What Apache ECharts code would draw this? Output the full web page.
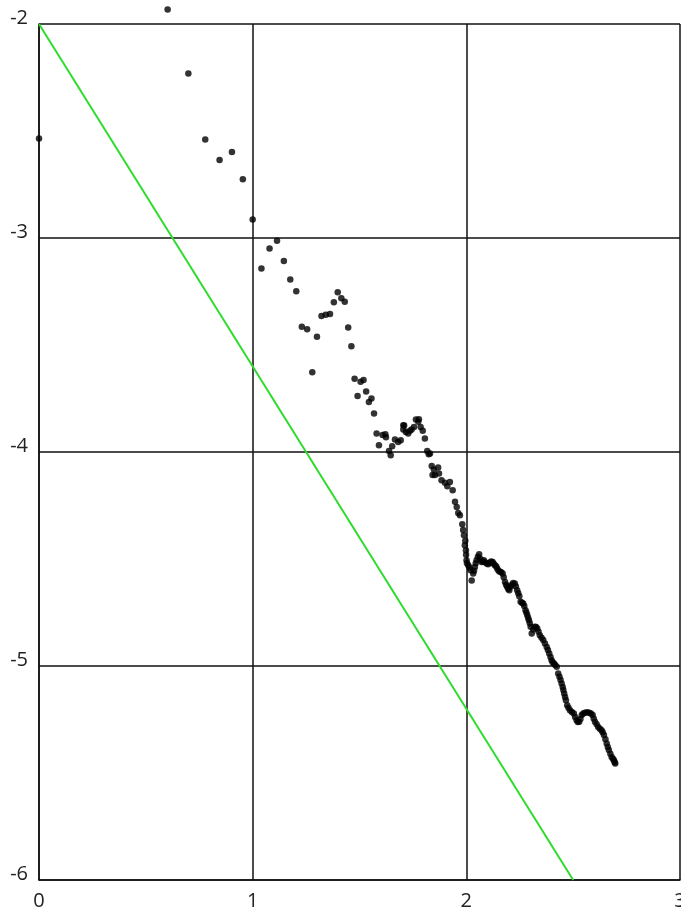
<!DOCTYPE html>
<html>
<head>
<meta charset="utf-8">
<script src="https://cdn.jsdelivr.net/npm/echarts@6/dist/echarts.min.js"></script>
<style>
html,body{margin:0;padding:0;background:#fff;overflow:hidden;}
#chart{width:681px;height:909px;}
</style>
</head>
<body>
<div id="chart"></div>
<script>
// tick labels
const xTicks = [0, 1, 2, 3];
const yTicks = [-6, -5, -4, -3, -2];

// reference line (green)
const refLineX = [0, 2.5];
const refLineY = [-2, -6];

// scatter points: x and y values
const pointsX = [
  0, 0.602, 0.699, 0.778, 0.845, 0.903, 0.954, 1.000, 1.041, 1.079,
  1.114, 1.146, 1.176, 1.204, 1.230, 1.255, 1.279, 1.301, 1.322, 1.342,
  1.362, 1.380, 1.398, 1.415, 1.431, 1.447, 1.462, 1.477, 1.491, 1.505,
  1.519, 1.531, 1.544, 1.556, 1.568, 1.580, 1.591,
  1.608, 1.621, 1.624, 1.638, 1.646, 1.653, 1.666, 1.681, 1.693, 1.705,
  1.705, 1.709, 1.717, 1.728, 1.736, 1.744, 1.755, 1.764, 1.775, 1.778,
  1.786, 1.796, 1.806, 1.817, 1.824, 1.830, 1.838, 1.842, 1.848, 1.853,
  1.868, 1.872, 1.884, 1.900, 1.911, 1.923, 1.936, 1.947, 1.955, 1.962,
  1.970, 1.981, 1.989, 1.993, 1.998, 2.001, 2.009, 2.020, 2.025, 2.032,
  2.040, 2.048, 2.060, 2.072, 2.082, 2.095, 2.110, 2.123, 2.134, 2.145,
  2.157, 2.170, 2.181, 2.191, 2.201, 2.212, 2.227, 2.238, 2.248, 2.254,
  2.266, 2.277, 2.285, 2.293, 2.301, 2.306, 2.321, 2.332, 2.344, 2.360,
  2.376, 2.388, 2.399, 2.410, 2.423, 2.430, 2.441, 2.451, 2.458, 2.466,
  2.472, 2.485, 2.503, 2.516, 2.528, 2.540, 2.555, 2.575, 2.591, 2.602,
  2.617, 2.633, 2.644, 2.657, 2.667, 2.680, 2.691, 2.697,
  // further reads along the dense band
  1.985, 1.995, 1.999, 2.003, 2.015, 2.036, 2.044, 2.054, 2.066, 2.077,
  2.088, 2.102, 2.116, 2.128, 2.140, 2.151, 2.163, 2.175, 2.186, 2.196,
  2.206, 2.219, 2.232, 2.243, 2.260, 2.271, 2.281, 2.289, 2.297, 2.313,
  2.326, 2.338, 2.352, 2.368, 2.382, 2.394, 2.404, 2.416, 2.436, 2.446,
  2.454, 2.462, 2.478, 2.494, 2.509, 2.522, 2.534, 2.547, 2.565, 2.583,
  2.596, 2.610, 2.625, 2.638, 2.651, 2.662, 2.674, 2.686, 2.694
];
const pointsY = [
  -2.535, -1.932, -2.231, -2.540, -2.636, -2.598, -2.725, -2.914, -3.143, -3.049,
  -3.013, -3.107, -3.194, -3.249, -3.415, -3.426, -3.627, -3.462, -3.365, -3.359,
  -3.355, -3.300, -3.253, -3.281, -3.298, -3.418, -3.506, -3.658, -3.738, -3.672,
  -3.664, -3.717, -3.766, -3.750, -3.820, -3.914, -3.968,
  -3.921, -3.917, -3.931, -3.995, -4.015, -3.973, -3.942, -3.953, -3.945, -3.875,
  -3.895, -3.876, -3.906, -3.914, -3.901, -3.895, -3.883, -3.848, -3.859, -3.847,
  -3.883, -3.901, -3.937, -3.995, -4.010, -4.007, -4.066, -4.108, -4.082, -4.108,
  -4.072, -4.100, -4.132, -4.144, -4.160, -4.140, -4.179, -4.233, -4.257, -4.285,
  -4.295, -4.338, -4.389, -4.436, -4.459, -4.506, -4.529, -4.553, -4.600, -4.568,
  -4.537, -4.506, -4.478, -4.514, -4.506, -4.521, -4.518, -4.514, -4.529, -4.545,
  -4.560, -4.568, -4.607, -4.630, -4.646, -4.622, -4.614, -4.646, -4.674, -4.700,
  -4.708, -4.739, -4.762, -4.786, -4.817, -4.848, -4.817, -4.825, -4.856, -4.879,
  -4.911, -4.942, -4.973, -4.988, -5.004, -5.035, -5.066, -5.098, -5.129, -5.160,
  -5.183, -5.207, -5.222, -5.253, -5.261, -5.229, -5.219, -5.219, -5.229, -5.261,
  -5.285, -5.300, -5.323, -5.362, -5.393, -5.425, -5.440, -5.456,
  // further reads along the dense band
  -4.365, -4.415, -4.480, -4.520, -4.540, -4.555, -4.520, -4.490, -4.500, -4.512,
  -4.515, -4.525, -4.512, -4.522, -4.535, -4.555, -4.562, -4.585, -4.620, -4.640,
  -4.630, -4.612, -4.628, -4.660, -4.705, -4.720, -4.750, -4.775, -4.800, -4.830,
  -4.818, -4.840, -4.868, -4.895, -4.925, -4.958, -4.982, -4.995, -5.050, -5.082,
  -5.112, -5.145, -5.195, -5.215, -5.238, -5.262, -5.248, -5.222, -5.216, -5.222,
  -5.245, -5.272, -5.293, -5.310, -5.342, -5.378, -5.410, -5.433, -5.450
];

const scatterData = pointsX.map((x, i) => [x, pointsY[i]]);
const lineData = refLineX.map((x, i) => [x, refLineY[i]]);

const chart = echarts.init(document.getElementById('chart'), null, {renderer: 'canvas'});
const gridColor = '#111';
const labelFont = {fontFamily: 'Open Sans', fontSize: 20, color: '#222'};

chart.setOption({
  animation: false,
  backgroundColor: '#fff',
  grid: {left: 39, right: 1, top: 24, bottom: 29, containLabel: false, outerBoundsMode: 'none'},
  xAxis: {
    type: 'value',
    min: xTicks[0], max: xTicks[xTicks.length - 1], interval: 1,
    axisLine: {show: true, lineStyle: {color: gridColor, width: 1.5}},
    axisTick: {show: false},
    splitLine: {show: true, lineStyle: {color: gridColor, width: 1.5}},
    axisLabel: Object.assign({margin: 11, hideOverlap: false}, labelFont)
  },
  yAxis: {
    type: 'value',
    min: yTicks[0], max: yTicks[yTicks.length - 1], interval: 1,
    axisLine: {show: true, lineStyle: {color: gridColor, width: 1.5}},
    axisTick: {show: false},
    splitLine: {show: true, lineStyle: {color: gridColor, width: 1.5}},
    axisLabel: Object.assign({margin: 11, verticalAlign: 'bottom', lineHeight: 11}, labelFont)
  },
  series: [
    {
      type: 'line',
      data: lineData,
      symbol: 'none',
      lineStyle: {color: '#2edc2e', width: 2},
      silent: true
    },
    {
      type: 'scatter',
      data: scatterData,
      symbol: 'circle',
      symbolSize: 6.5,
      itemStyle: {color: '#000'},
      clip: false
    }
  ]
});
</script>
</body>
</html>
